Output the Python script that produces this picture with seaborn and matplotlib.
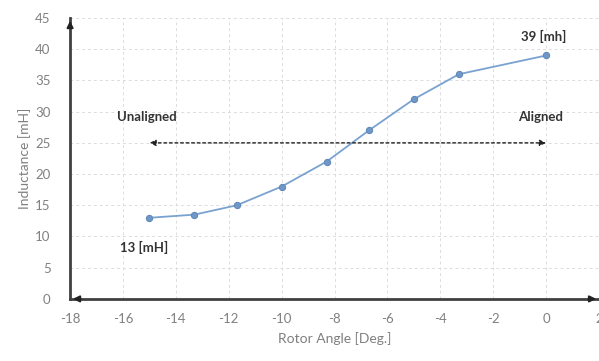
import numpy as np
import pandas as pd
import matplotlib
matplotlib.use('Agg')
import matplotlib.pyplot as plt
import seaborn as sns

# values
rotor_angle = [-15, -13.3, -11.7, -10, -8.3, -6.7, -5, -3.3, 0]
inductance = [13, 13.5, 15, 18, 22, 27, 32, 36, 39]
x_ticks = list(range(-18, 3, 2))
y_ticks = list(range(0, 46, 5))

df = pd.DataFrame({'angle': rotor_angle, 'L': inductance})

sns.set_style('white')
plt.rcParams['font.family'] = ['Lato', 'DejaVu Sans']
plt.rcParams['axes.unicode_minus'] = False

fig = plt.figure(figsize=(5.99, 3.61), dpi=100)
ax = fig.add_axes([0.117, 0.172, 0.883, 0.778])

sns.lineplot(data=df, x='angle', y='L', ax=ax, color='#7aa2d0', linewidth=1.3,
             marker='o', markersize=4.5, markeredgecolor='#5f88b8', markerfacecolor='#6f98c8')

ax.set_xlim(-18, 2)
ax.set_ylim(0, 45)
ax.set_xticks(x_ticks)
ax.set_yticks(y_ticks)
ax.set_xticks(np.arange(-17, 2, 2), minor=True)
ax.set_yticks(np.arange(2.5, 45, 5), minor=True)
ax.grid(True, which='major', linestyle=(0, (3, 3)), color='#dcdcdc', linewidth=0.7)
ax.tick_params(axis='x', which='major', pad=8)
ax.tick_params(axis='y', which='major', pad=12)
ax.tick_params(axis='both', which='major', labelsize=9.5, labelcolor='#808080',
               length=4, width=1, color='#404040', direction='inout')
ax.tick_params(axis='both', which='minor', length=3, width=1, color='#404040', direction='inout')
for s in ['top', 'right']:
    ax.spines[s].set_visible(False)
for s in ['left', 'bottom']:
    ax.spines[s].set_color('#404040')
    ax.spines[s].set_linewidth(2)

# axis arrows
ax.annotate('', xy=(-18, 45), xytext=(-18, 43), arrowprops=dict(arrowstyle='-|>', color='#222222', lw=1.5, mutation_scale=9), annotation_clip=False)
ax.annotate('', xy=(2, 0), xytext=(1.5, 0), arrowprops=dict(arrowstyle='-|>', color='#222222', lw=1.5, mutation_scale=9), annotation_clip=False)
ax.annotate('', xy=(-18, 0), xytext=(-17.5, 0), arrowprops=dict(arrowstyle='-|>', color='#222222', lw=1.5, mutation_scale=9), annotation_clip=False)

# aligned / unaligned arrow
ax.annotate('', xy=(-15.1, 25), xytext=(0.1, 25),
            arrowprops=dict(arrowstyle='<|-|>', color='#222222', lw=1, linestyle=(0, (2, 2)), mutation_scale=9))
ax.text(-15.1, 29.2, 'Unaligned', fontsize=9.5, fontweight='bold', color='#333333', ha='center', va='center')
ax.text(-0.2, 29.2, 'Aligned', fontsize=9.5, fontweight='bold', color='#333333', ha='center', va='center')
ax.text(-15.2, 8.3, '13 [mH]', fontsize=9.5, fontweight='bold', color='#333333', ha='center', va='center')
ax.text(-0.1, 42, '39 [mh]', fontsize=9.5, fontweight='bold', color='#333333', ha='center', va='center')

ax.set_xlabel('Rotor Angle [Deg.]', fontsize=10, color='#808080', labelpad=5)
ax.set_ylabel('Inductance [mH]', fontsize=10, color='#808080', labelpad=3)

fig.savefig('out.png', dpi=100)
